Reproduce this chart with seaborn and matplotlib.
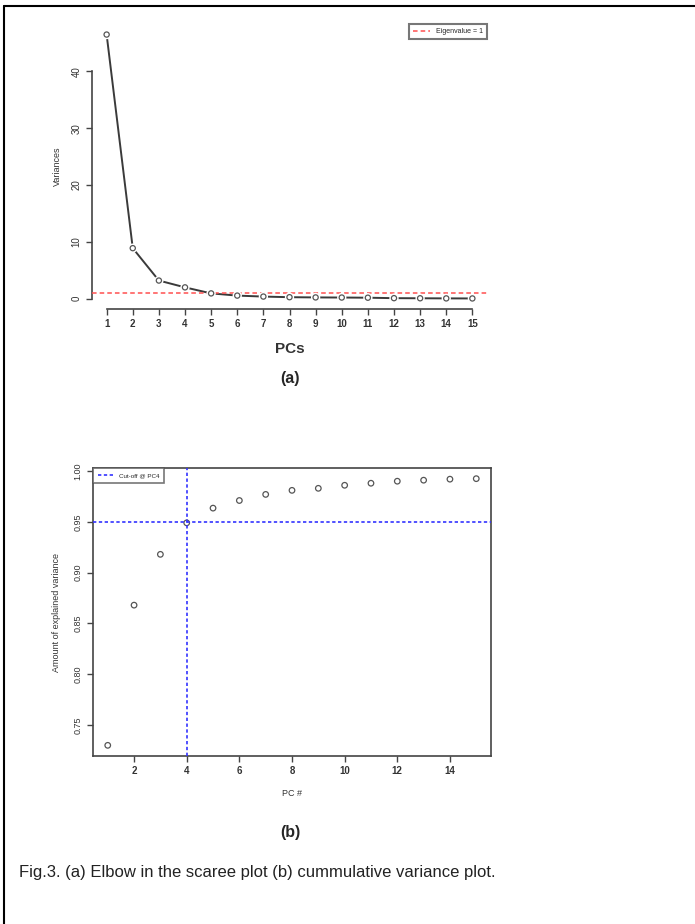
import numpy as np
import pandas as pd
import matplotlib
matplotlib.use("Agg")
import matplotlib.pyplot as plt
import seaborn as sns

# values
pcs = list(range(1, 16))
variances = [46.5, 8.9, 3.2, 2.0, 0.94, 0.55, 0.38, 0.27, 0.23, 0.21, 0.18, 0.10, 0.08, 0.06, 0.05]
cum_var = [0.730, 0.868, 0.918, 0.949, 0.9635, 0.971, 0.977, 0.981, 0.983,
           0.986, 0.988, 0.990, 0.991, 0.992, 0.9925]
eigen_cut = 1
pc_cut = 4
var_cut = 0.95
x_ticks_b = [2, 4, 6, 8, 10, 12, 14]
y_ticks_a = [0, 10, 20, 30, 40]
y_ticks_b = [0.75, 0.80, 0.85, 0.90, 0.95, 1.00]

sns.set_style("white")
plt.rcParams["font.family"] = ["Liberation Sans", "DejaVu Sans"]

df_a = pd.DataFrame({"PC": pcs, "var": variances})
df_b = pd.DataFrame({"PC": pcs, "cum": cum_var})

W, H = 695, 924
fig = plt.figure(figsize=(W / 100, H / 100), dpi=100)
fig.patch.set_facecolor("white")


def box(x0, y0, x1, y1):
    # pixel box -> figure fraction rect
    return [x0 / W, 1 - y1 / H, (x1 - x0) / W, (y1 - y0) / H]


def r_lim(vals):
    lo, hi = min(vals), max(vals)
    pad = (hi - lo) * 0.04
    return lo - pad, hi + pad


# page frame (left and top edges)
fig.add_artist(plt.Line2D([4 / W, 4 / W], [0, 1 - 6 / H], color="black", lw=1.5))
fig.add_artist(plt.Line2D([4 / W, 1], [1 - 6 / H, 1 - 6 / H], color="black", lw=1.5))

# ---- (a) scree plot
ax1 = fig.add_axes(box(92, 24, 487, 309))
ax1.patch.set_alpha(0)
sns.lineplot(data=df_a, x="PC", y="var", color="#3a3a3a", lw=1.4, ax=ax1, zorder=2)
ax1.axhline(eigen_cut, color="#ff5050", ls=(0, (3, 2)), lw=1.1, label="Eigenvalue = 1", zorder=3)
sns.scatterplot(data=df_a, x="PC", y="var", s=45, color="white", edgecolor="none", ax=ax1, zorder=4)
sns.scatterplot(data=df_a, x="PC", y="var", s=14, facecolor="none", edgecolor="#555555",
                linewidth=0.9, ax=ax1, zorder=5)
ax1.set_xlim(*r_lim(pcs))
ax1.set_ylim(*r_lim(variances))
for s in ["top", "right"]:
    ax1.spines[s].set_visible(False)
ax1.spines["left"].set_bounds(0, 40)
ax1.spines["bottom"].set_bounds(1, 15)
for s in ["left", "bottom"]:
    ax1.spines[s].set_color("#444444")
    ax1.spines[s].set_linewidth(1.2)
ax1.set_xticks(pcs)
ax1.set_yticks(y_ticks_a)
ax1.set_xticklabels([str(p) for p in pcs], fontsize=7, fontweight="bold", color="#333333")
ax1.set_yticklabels([str(v) for v in y_ticks_a], fontsize=7, rotation=90, va="center", color="#333333")
ax1.tick_params(axis="both", length=4, width=1, color="#444444", direction="out",
                bottom=True, left=True)
ax1.set_xlabel("PCs", fontsize=11, fontweight="bold", color="#333333", labelpad=9)
ax1.set_ylabel("Variances", fontsize=6.5, color="#333333", labelpad=7)
leg = ax1.legend(loc="upper right", fontsize=5, frameon=True, fancybox=False,
                 borderaxespad=0, handlelength=2.5, borderpad=0.6)
leg.get_frame().set_edgecolor("#555555")
leg.get_frame().set_linewidth(1.5)
fig.text(290 / W, 1 - 378 / H, "(a)", fontsize=11.5, fontweight="bold", ha="center", va="center")

# ---- (b) cumulative variance plot
ax2 = fig.add_axes(box(93, 468, 491, 756))
ax2.patch.set_alpha(0)
sns.scatterplot(data=df_b, x="PC", y="cum", s=16, facecolor="none", edgecolor="#555555",
                linewidth=0.9, ax=ax2, zorder=3)
ax2.axvline(pc_cut, color="#3333ff", ls=(0, (2, 1.5)), lw=1.2, label="Cut-off @ PC4", zorder=4)
ax2.axhline(var_cut, color="#3333ff", ls=(0, (2, 1.5)), lw=1.2, zorder=4)
ax2.set_xlim(*r_lim(pcs))
ax2.set_ylim(*r_lim(cum_var))
for s in ax2.spines.values():
    s.set_color("#444444")
    s.set_linewidth(1.2)
ax2.set_xticks(x_ticks_b)
ax2.set_yticks(y_ticks_b)
ax2.set_xticklabels([str(v) for v in x_ticks_b], fontsize=7, fontweight="bold", color="#333333")
ax2.set_yticklabels([f"{v:.2f}" for v in y_ticks_b], fontsize=6.5, rotation=90, va="center",
                    color="#333333")
ax2.tick_params(axis="both", length=4, width=1, color="#444444", direction="out",
                bottom=True, left=True)
ax2.set_xlabel("PC #", fontsize=6.5, color="#333333", labelpad=9)
ax2.set_ylabel("Amount of explained variance", fontsize=6.5, color="#333333", labelpad=9)
leg2 = ax2.legend(loc="upper left", fontsize=4.5, frameon=True, fancybox=False,
                  borderaxespad=0, handlelength=2.5, borderpad=0.8)
leg2.get_frame().set_edgecolor("#555555")
leg2.get_frame().set_linewidth(1.2)
fig.text(290 / W, 1 - 832 / H, "(b)", fontsize=11.5, fontweight="bold", ha="center", va="center")

fig.text(19 / W, 1 - 872 / H, "Fig.3. (a) Elbow in the scaree plot (b) cummulative variance plot.",
         fontsize=12, ha="left", va="center", color="#222222")

fig.savefig("out.png", dpi=100)
